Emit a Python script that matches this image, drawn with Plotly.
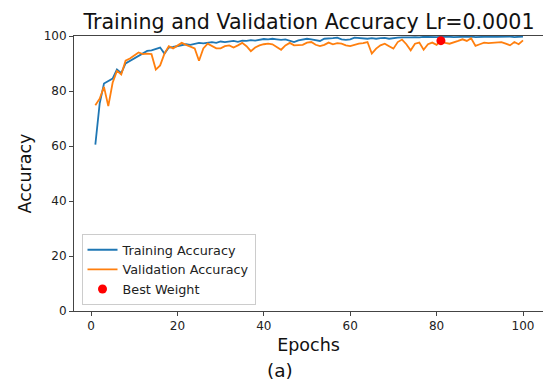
import plotly.graph_objects as go

epochs = list(range(1, 101))
train_acc = [
    60.5, 75.4, 82.7, 83.7, 84.5, 87.8, 86.5, 90.0, 90.9, 91.8,
    92.8, 93.4, 94.6, 94.8, 95.4, 95.8, 93.6, 95.8, 96.0, 96.3,
    96.8, 97.0, 96.8, 97.2, 97.5, 97.3, 97.6, 97.8, 97.5, 98.0,
    97.8, 98.0, 98.2, 97.9, 98.3, 98.2, 98.5, 98.3, 98.6, 98.9,
    98.8, 99.0, 98.8, 98.6, 98.8, 98.4, 97.8, 98.4, 98.8, 99.0,
    98.8, 98.6, 98.2, 99.0, 99.0, 99.2, 99.4, 98.8, 98.6, 98.8,
    99.4, 99.2, 99.0, 99.0, 99.2, 99.0, 99.2, 99.3, 99.0, 99.3,
    99.4, 99.5, 99.4, 99.5, 99.6, 99.5, 99.7, 99.6, 99.7, 99.6,
    99.7, 99.8, 99.7, 99.6, 99.7, 99.8, 99.7, 99.8, 99.6, 99.7,
    99.8, 99.7, 99.8, 99.7, 99.8, 99.7, 99.8, 99.6, 99.7, 99.8,
]
val_acc = [
    74.8, 77.2, 81.5, 74.5, 83.0, 87.3, 86.0, 91.0, 91.8, 92.8,
    94.0, 93.4, 93.6, 93.4, 87.8, 89.3, 93.6, 96.3, 95.5, 96.5,
    97.5, 96.8, 96.2, 95.5, 91.0, 95.5, 97.2, 96.2, 95.5, 95.5,
    96.3, 96.6, 95.8, 96.6, 97.5, 96.3, 94.5, 95.8, 96.6, 97.0,
    97.2, 97.0, 96.0, 95.0, 96.6, 97.5, 96.6, 96.6, 96.8, 97.6,
    97.8, 96.8, 96.3, 96.8, 97.6, 97.0, 97.4, 97.2, 96.6, 96.3,
    96.8, 97.2, 97.4, 97.8, 93.6, 95.4, 96.6, 97.2, 96.3, 95.4,
    97.8, 98.7, 97.0, 94.8, 97.2, 97.6, 95.0, 97.0, 97.6, 96.8,
    98.3, 97.5, 97.2, 97.6, 98.2, 98.8, 98.2, 99.2, 96.4, 97.0,
    97.6, 97.4, 97.6, 97.8, 97.8, 97.2, 96.6, 97.8, 97.0, 98.4,
]
best_epoch = [81]
best_acc = [98.3]
x_ticks = [0, 20, 40, 60, 80, 100]
y_ticks = [0, 20, 40, 60, 80, 100]

font = "DejaVu Sans"
fig = go.Figure()
fig.add_trace(go.Scatter(x=epochs, y=train_acc, mode="lines", name="Training Accuracy",
                         line=dict(color="#1f77b4", width=1.8)))
fig.add_trace(go.Scatter(x=epochs, y=val_acc, mode="lines", name="Validation Accuracy",
                         line=dict(color="#ff7f0e", width=1.8)))
fig.add_trace(go.Scatter(x=best_epoch, y=best_acc, mode="markers", name="Best Weight",
                         marker=dict(color="red", size=9)))

axis_common = dict(showgrid=False, zeroline=False, showline=True, linecolor="#444",
                   linewidth=1, ticks="outside", ticklen=4, tickcolor="#444",
                   tickfont=dict(family=font, size=12, color="#222"))
fig.update_layout(
    width=543, height=390,
    margin=dict(l=74, r=0, t=36, b=79),
    plot_bgcolor="white", paper_bgcolor="white",
    font=dict(family=font, color="#222"),
    title=dict(text="Training and Validation Accuracy Lr=0.0001", x=0.569, xanchor="center",
               y=0.944, yanchor="middle", font=dict(family=font, size=20.6, color="#111")),
    xaxis=dict(range=[-3.94, 104.63], tickvals=x_ticks, mirror=True,
               title=dict(text="Epochs", font=dict(family=font, size=17.5, color="#111"), standoff=6),
               **axis_common),
    yaxis=dict(range=[0, 100], tickvals=y_ticks,
               title=dict(text="Accuracy", font=dict(family=font, size=17.5, color="#111"), standoff=7),
               **axis_common),
    legend=dict(x=0.016, y=0.022, xanchor="left", yanchor="bottom",
                bgcolor="rgba(255,255,255,0.85)", bordercolor="#cccccc", borderwidth=1,
                font=dict(family=font, size=12.8, color="#222"), tracegroupgap=0,
                itemwidth=30),
    showlegend=True,
)
fig.add_annotation(text="(a)", xref="paper", yref="paper", x=0.439, y=-0.218,
                   xanchor="center", yanchor="middle", showarrow=False,
                   font=dict(family=font, size=18.5, color="#111"))
fig.write_html("out.html")
